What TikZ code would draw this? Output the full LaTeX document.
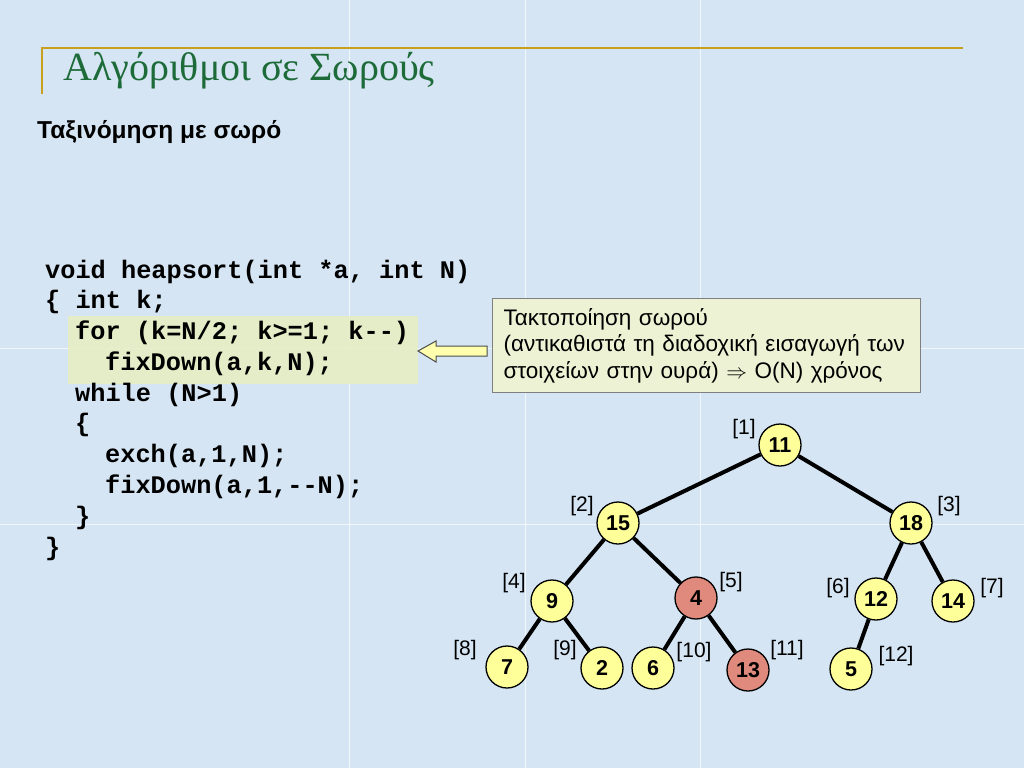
\documentclass[tikz,border=0pt]{standalone}
\usepackage{fontspec}
\setmainfont{Liberation Serif}
\setsansfont{Liberation Sans}
\newfontfamily\codefont{Liberation Mono}
\definecolor{bgblue}{HTML}{D5E5F3}
\definecolor{gold}{HTML}{C8A020}
\definecolor{titlegreen}{HTML}{1E6B3A}
\definecolor{hilite}{HTML}{E6EEC4}
\definecolor{boxfill}{HTML}{EEF2D4}
\definecolor{nodeyellow}{HTML}{FFFF99}
\definecolor{nodered}{HTML}{E08A7E}
\tikzset{
  heap/.style={circle, draw=black, line width=1.3pt, fill=nodeyellow, minimum size=42pt, inner sep=0pt,
    font=\sffamily\bfseries\fontsize{21.5}{21.5}\selectfont},
  hot/.style={heap, fill=nodered},
  idx/.style={font=\sffamily\fontsize{21}{21}\selectfont, inner sep=0pt},
  edge/.style={line width=4pt, black},
  code/.style={anchor=west, inner sep=0pt, font=\codefont\bfseries\fontsize{25.3}{25}\selectfont},
}
\begin{document}
\begin{tikzpicture}[x=1pt,y=-1pt]
\useasboundingbox (0,0) rectangle (1024,768);
\fill[bgblue] (0,0) rectangle (1024,768);
% faint grid
\foreach \x in {349,525,700} \draw[white, opacity=0.7, line width=1pt] (\x,0) -- (\x,768);
\foreach \y in {348,524} \draw[white, opacity=0.7, line width=1pt] (0,\y) -- (1024,\y);
% title decoration
\draw[gold, line width=2.5pt] (42,94) -- (42,48) -- (963,48);
\node[anchor=base west, inner sep=0pt, text=titlegreen, font=\fontsize{40}{40}\selectfont] (title) at (63,80) {Αλγόριθμοι σε Σωρούς};
\node[anchor=base west, inner sep=0pt, font=\sffamily\bfseries\fontsize{24.5}{24}\selectfont] (sub) at (37,138) {Ταξινόμηση με σωρό};
% highlight
\fill[hilite, opacity=0.9] (68,316) rectangle (418,384);
% code
\node[code] (c1) at (45,272) {void heapsort(int *a, int N)};
\node[code] (c2) at (45,302) {\{ int k;};
\node[code] (c3) at (75,333) {for (k=N/2; k>=1; k-\kern0pt-)};
\node[code] (c4) at (105,364) {fixDown(a,k,N);};
\node[code] (c5) at (75,395) {while (N>1)};
\node[code] (c6) at (75,425) {\{};
\node[code] (c7) at (105,456) {exch(a,1,N);};
\node[code] (c8) at (105,487) {fixDown(a,1,-\kern0pt-N);};
\node[code] (c9) at (75,518) {\}};
\node[code] (c10) at (45,549) {\}};
% comment box
\node[draw=gray, line width=1pt, fill=boxfill, anchor=north west, minimum width=428pt, minimum height=94pt,
  inner xsep=11pt, inner ysep=7pt, align=left, text width=406pt,
  font=\sffamily\fontsize{22.5}{26.5}\selectfont] (box) at (492,298)
  {Τακτοποίηση σωρού\\(αντικαθιστά τη διαδοχική εισαγωγή των\\στοιχείων στην ουρά) $\Rightarrow$ O(N) χρόνος};
% block arrow
\draw[fill=nodeyellow!80!white, draw=black!70, line width=1pt]
  (418,351) -- (436,341) -- (436,346) -- (487,346) -- (487,356) -- (436,356) -- (436,362) -- cycle;
% tree
\node[heap] (n1) at (780,445) {11};
\node[heap] (n2) at (618,523) {15};
\node[heap] (n3) at (911,523) {18};
\node[heap] (n4) at (552,601) {9};
\node[hot]  (n5) at (696,598) {4};
\node[heap] (n6) at (876,599) {12};
\node[heap] (n7) at (953,601) {14};
\node[heap] (n8) at (507,667) {7};
\node[heap] (n9) at (602,668) {2};
\node[heap] (n10) at (653,668) {6};
\node[hot]  (n11) at (748,670) {13};
\node[heap] (n12) at (851,669) {5};
\draw[edge] (n1) -- (n2);
\draw[edge] (n1) -- (n3);
\draw[edge] (n2) -- (n4);
\draw[edge] (n2) -- (n5);
\draw[edge] (n3) -- (n6);
\draw[edge] (n3) -- (n7);
\draw[edge] (n4) -- (n8);
\draw[edge] (n4) -- (n9);
\draw[edge] (n5) -- (n10);
\draw[edge] (n5) -- (n11);
\draw[edge] (n6) -- (n12);
% indices
\node[idx] (l1) at (744,429) {[1]};
\node[idx] (l2) at (582,506) {[2]};
\node[idx] (l3) at (949,506) {[3]};
\node[idx] (l4) at (514,583) {[4]};
\node[idx] (l5) at (731,582) {[5]};
\node[idx] (l6) at (838,588) {[6]};
\node[idx] (l7) at (992,588) {[7]};
\node[idx] (l8) at (465,650) {[8]};
\node[idx] (l9) at (565,650) {[9]};
\node[idx] (l10) at (694,652) {[10]};
\node[idx] (l11) at (787,650) {[11]};
\node[idx] (l12) at (896,656) {[12]};
\end{tikzpicture}
\end{document}
